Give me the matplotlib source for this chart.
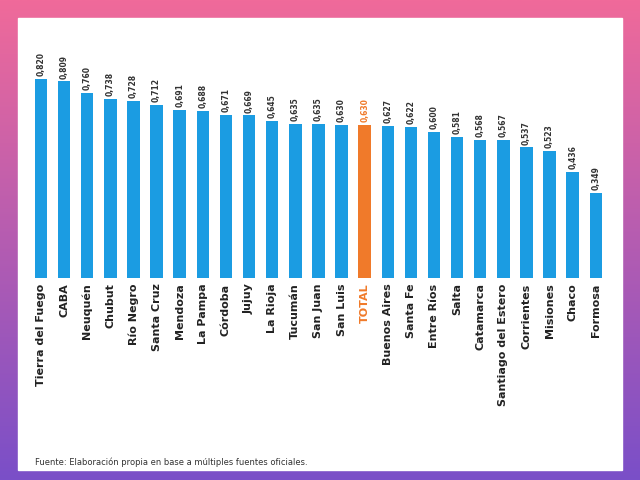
import numpy as np
import matplotlib.pyplot as plt
from matplotlib.patches import Rectangle
from matplotlib.colors import LinearSegmentedColormap

provinces = ['Tierra del Fuego', 'CABA', 'Neuquén', 'Chubut', 'Río Negro', 'Santa Cruz',
             'Mendoza', 'La Pampa', 'Córdoba', 'Jujuy', 'La Rioja', 'Tucumán', 'San Juan',
             'San Luis', 'TOTAL', 'Buenos Aires', 'Santa Fe', 'Entre Ríos', 'Salta',
             'Catamarca', 'Santiago del Estero', 'Corrientes', 'Misiones', 'Chaco', 'Formosa']
values = [0.820, 0.809, 0.760, 0.738, 0.728, 0.712, 0.691, 0.688, 0.671, 0.669, 0.645,
          0.635, 0.635, 0.630, 0.630, 0.627, 0.622, 0.600, 0.581, 0.568, 0.567, 0.537,
          0.523, 0.436, 0.349]

blue = '#1b9ce2'
orange = '#f07a2a'
colors = [orange if p == 'TOTAL' else blue for p in provinces]

fig = plt.figure(figsize=(6.4, 4.8), dpi=100)

# gradient frame
bg = fig.add_axes([0, 0, 1, 1])
grad = np.linspace(0, 1, 256).reshape(-1, 1)
cmap = LinearSegmentedColormap.from_list('frame', ['#f06a9a', '#7a4fc8'])
bg.imshow(grad, aspect='auto', cmap=cmap, extent=[0, 1, 0, 1], origin='upper')
bg.add_patch(Rectangle((18 / 640, 10 / 480), 604 / 640, 452 / 480, color='white'))
bg.set_xlim(0, 1)
bg.set_ylim(0, 1)
bg.axis('off')

ax = fig.add_axes([0.046, 0.421, 0.903, 0.506])
x = np.arange(len(provinces))
ax.bar(x, values, width=0.54, color=colors)
for xi, v, p in zip(x, values, provinces):
    ax.text(xi, v + 0.012, f'{v:.3f}'.replace('.', ','), rotation=90, ha='center',
            va='bottom', fontsize=5.5, fontweight='bold',
            color=orange if p == 'TOTAL' else '#333333')
ax.set_xlim(-0.5, len(provinces) - 0.5)
ax.set_ylim(0, 1)
ax.set_xticks(x)
ax.set_xticklabels(provinces, rotation=90, fontsize=8, fontweight='bold', color='#222222')
ax.get_xticklabels()[provinces.index('TOTAL')].set_color(orange)
ax.tick_params(axis='x', length=0, pad=4)
ax.set_yticks([])
for s in ax.spines.values():
    s.set_visible(False)

fig.text(35 / 640, 1 - 462 / 480, 'Fuente: Elaboración propia en base a múltiples fuentes oficiales.',
         fontsize=6, color='#333333', va='center')

fig.savefig('out.png', dpi=100)
